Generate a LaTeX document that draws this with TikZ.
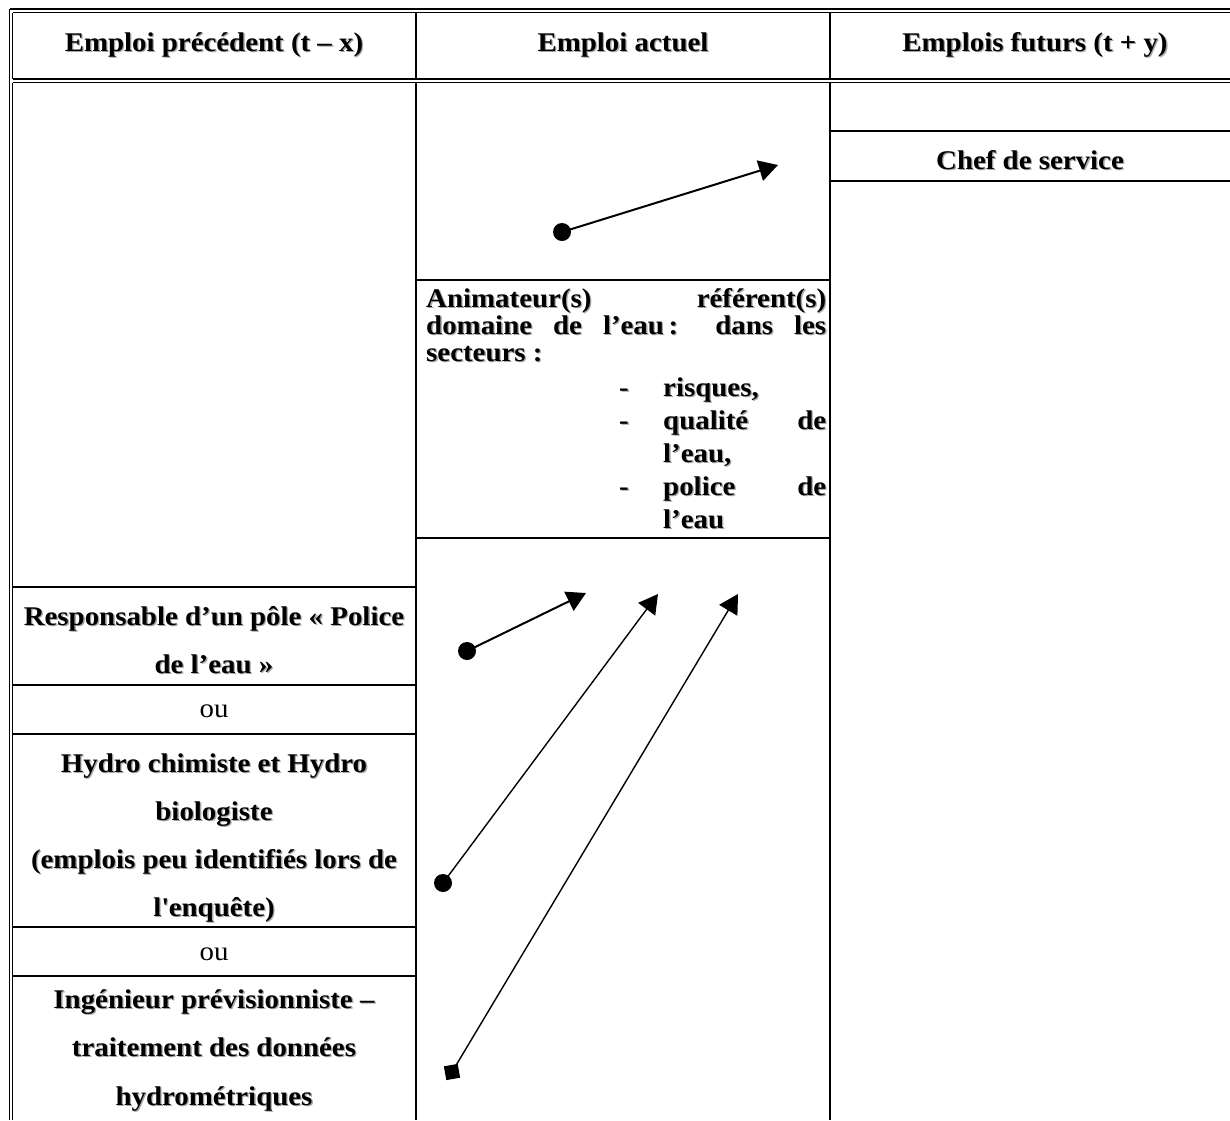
\documentclass[tikz,border=0pt]{standalone}
\usepackage{fontspec}
\setmainfont{Liberation Serif}[FakeStretch=1.07]
\usetikzlibrary{arrows.meta}
\newcommand{\shd}[1]{\rlap{\kern1.3pt\raisebox{-1.3pt}{\color{black!35}#1}}#1}
\begin{document}
\begin{tikzpicture}[x=1pt,y=-1pt,
  rule/.style={line width=1.8pt},
  lbl/.style={anchor=base, inner sep=0pt, font=\fontsize{27}{32}\selectfont\bfseries},
  lblw/.style={anchor=base west, inner sep=0pt, font=\fontsize{27}{32}\selectfont\bfseries},
  plain/.style={anchor=base, inner sep=0pt, font=\fontsize{27}{32}\selectfont},
  dot/.style={circle, fill=black, inner sep=0pt, minimum size=18pt},
  sq/.style={rectangle, fill=black, inner sep=0pt, minimum size=14pt, rotate=10},
  arr/.style={-{Triangle[length=19pt,width=21pt]}, line width=2pt},
  arrthin/.style={-{Triangle[length=19pt,width=21pt]}, line width=1.4pt}]
\useasboundingbox (0,0) rectangle (1230,1120);

% ---- table rules ----
\draw[rule] (9.5,9) -- (1230,9);
\draw[rule] (12.5,12.5) -- (1230,12.5);
\draw[rule] (9.5,9) -- (9.5,1120);
\draw[rule] (12.5,12.5) -- (12.5,79);
\draw[rule] (12.5,82.5) -- (12.5,1120);
\draw[rule] (12.5,79) -- (1230,79);
\draw[rule] (12.5,82.5) -- (1230,82.5);
\draw[rule] (416,12.5) -- (416,79);
\draw[rule] (416,82.5) -- (416,1120);
\draw[rule] (830,12.5) -- (830,79);
\draw[rule] (830,82.5) -- (830,1120);
% middle column
\draw[rule] (416,280) -- (830,280);
\draw[rule] (416,538) -- (830,538);
% right column
\draw[rule] (830,131) -- (1230,131);
\draw[rule] (830,181) -- (1230,181);
% left column
\foreach \yy in {587,685,734,927,976} \draw[rule] (12.5,\yy) -- (416,\yy);

% ---- headers ----
\node[lbl] (h1) at (214,51) {\shd{Emploi précédent (t – x)}};
\node[lbl] (h2) at (623,51) {\shd{Emploi actuel}};
\node[lbl] (h3) at (1035,51) {\shd{Emplois futurs (t + y)}};

% ---- right column ----
\node[lbl] (chef) at (1030,169) {\shd{Chef de service}};

% ---- middle cell text ----
\node[lblw] (m1) at (426,307) {\shd{\makebox[400pt][s]{Animateur(s) référent(s)}}};
\node[lblw] (m2) at (426,334) {\shd{\makebox[400pt][s]{domaine de l’eau\,: dans les}}};
\node[lblw] (m3) at (426,361) {\shd{secteurs :}};
\node[lblw] (d1) at (619,396) {\shd{-}};
\node[lblw] (m4) at (663,396) {\shd{risques,}};
\node[lblw] (d2) at (619,429) {\shd{-}};
\node[lblw] (m5) at (663,429) {\shd{\makebox[163pt][s]{qualité de}}};
\node[lblw] (m6) at (663,462) {\shd{l’eau,}};
\node[lblw] (d3) at (619,495) {\shd{-}};
\node[lblw] (m7) at (663,495) {\shd{\makebox[163pt][s]{police de}}};
\node[lblw] (m8) at (663,528) {\shd{l’eau}};

% ---- left column ----
\node[lbl] (r1) at (214,625) {\shd{Responsable d’un pôle « Police}};
\node[lbl] (r2) at (214,673) {\shd{de l’eau »}};
\node[plain] (ou1) at (214,717) {ou};
\node[lbl] (hy1) at (214,772) {\shd{Hydro chimiste et Hydro}};
\node[lbl] (hy2) at (214,820) {\shd{biologiste}};
\node[lbl] (hy3) at (214,868) {\shd{(emplois peu identifiés lors de}};
\node[lbl] (hy4) at (214,916) {\shd{l\textquotesingle enquête)}};
\node[plain] (ou2) at (214,960) {ou};
\node[lbl] (in1) at (214,1008) {\shd{Ingénieur prévisionniste –}};
\node[lbl] (in2) at (214,1056) {\shd{traitement des données}};
\node[lbl] (in3) at (214,1105) {\shd{hydrométriques}};

% ---- arrows ----
\node[dot] (s0) at (562,232) {};
\coordinate (e0) at (778,165);
\draw[arr] (s0.center) -- (e0);

\node[dot] (s1) at (467,651) {};
\coordinate (e1) at (586,593);
\draw[arr] (s1.center) -- (e1);

\node[dot] (s2) at (443,883) {};
\coordinate (e2) at (658,594);
\draw[arrthin] (s2.center) -- (e2);

\node[sq] (s3) at (452,1072) {};
\coordinate (e3) at (738,594);
\draw[arrthin] (s3.center) -- (e3);
\end{tikzpicture}
\end{document}
